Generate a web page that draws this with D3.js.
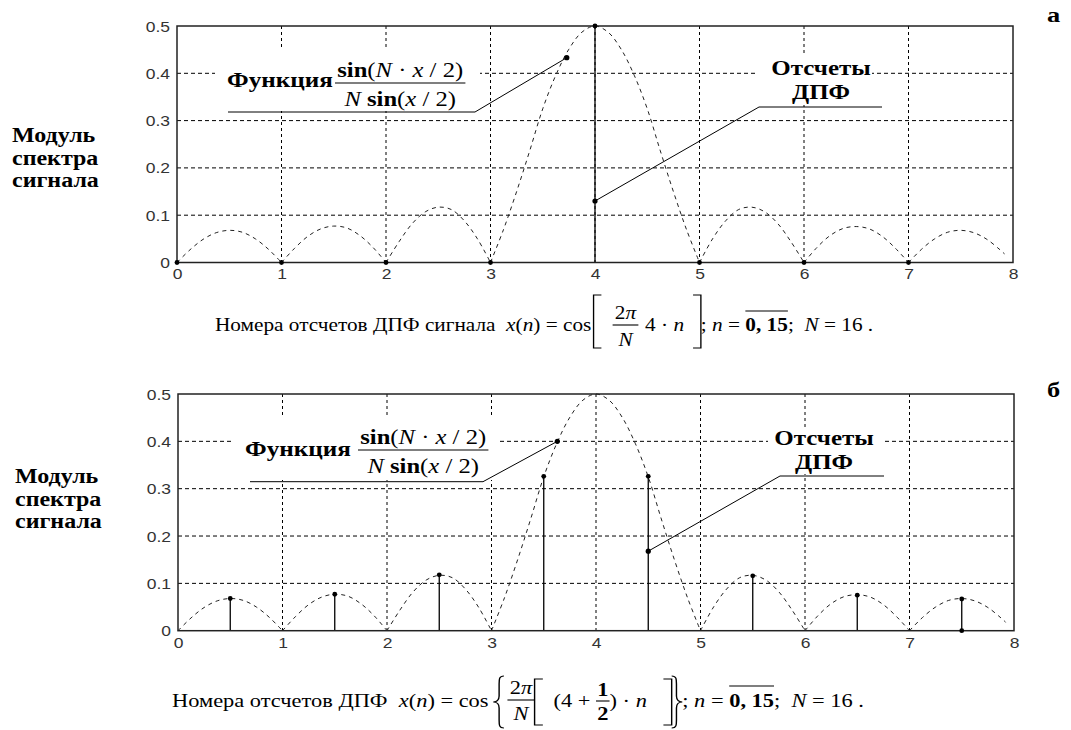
<!DOCTYPE html>
<html>
<head>
<meta charset="utf-8">
<script src="https://cdn.jsdelivr.net/npm/d3@7"></script>
<style>
  body { margin: 0; background: #fff; }
  svg { display: block; }
  .serif { font-family: "Liberation Serif", "DejaVu Serif", serif; white-space: pre; }
  .sans { font-family: "Liberation Sans", "DejaVu Sans", sans-serif; }
</style>
</head>
<body>
<svg id="fig" width="1071" height="730"></svg>
<script>
// ---- axis ticks ----
const xTicks = [0, 1, 2, 3, 4, 5, 6, 7, 8];
const xTickLabels = ["0", "1", "2", "3", "4", "5", "6", "7", "8"];
const yTicks = [0, 0.1, 0.2, 0.3, 0.4, 0.5];
const yTickLabels = ["0", "0.1", "0.2", "0.3", "0.4", "0.5"];

// ---- |sin(N·x/2) / (N·sin(x/2))| envelope, sampled ----
const envX = [0, 0.125, 0.25, 0.375, 0.5, 0.625, 0.75, 0.875,
              1, 1.125, 1.25, 1.375, 1.5, 1.625, 1.75, 1.875,
              2, 2.125, 2.25, 2.375, 2.5, 2.625, 2.75, 2.875,
              3, 3.125, 3.25, 3.375, 3.5, 3.625, 3.75, 3.875,
              4, 4.125, 4.25, 4.375, 4.5, 4.625, 4.75, 4.875,
              5, 5.125, 5.25, 5.375, 5.5, 5.625, 5.75, 5.875,
              6, 6.125, 6.25, 6.375, 6.5, 6.625, 6.75, 6.875,
              7, 7.125, 7.25, 7.375, 7.5, 7.625, 7.75, 7.875, 7.92];
const envY = [0, 0.027, 0.049, 0.063, 0.068, 0.064, 0.050, 0.028,
              0, 0.030, 0.055, 0.071, 0.077, 0.073, 0.057, 0.032,
              0, 0.044, 0.082, 0.107, 0.117, 0.112, 0.088, 0.050,
              0, 0.070, 0.150, 0.236, 0.325, 0.396, 0.451, 0.487,
              0.5, 0.487, 0.451, 0.396, 0.325, 0.236, 0.150, 0.070,
              0, 0.050, 0.088, 0.112, 0.117, 0.107, 0.082, 0.044,
              0, 0.032, 0.057, 0.072, 0.076, 0.071, 0.055, 0.030,
              0, 0.028, 0.050, 0.064, 0.068, 0.063, 0.049, 0.027, 0.018];

// ---- panel а: DFT of cos(2π/N·4n) ----
const binsA = [0, 1, 2, 3, 4, 5, 6, 7];
const magA  = [0, 0, 0, 0, 0.5, 0, 0, 0];
const calloutFnA  = [3.73, 0.433];
const calloutDftA = [4, 0.13];

// ---- panel б: DFT of cos(2π/N·(4+1/2)n) ----
const binsB = [0.5, 1.5, 2.5, 3.5, 4.5, 5.5, 6.5, 7.5];
const magB  = [0.068, 0.077, 0.118, 0.326, 0.326, 0.116, 0.075, 0.067];
const zeroMarksB = [7.5];
const calloutFnB  = [3.63, 0.4];
const calloutDftB = [4.5, 0.168];

const SX = 1.2;   // horizontal widening of all lettering

const svg = d3.select("#fig");
svg.append("rect").attr("width", 1071).attr("height", 730).attr("fill", "#fff");

// ---------- text helpers ----------
function spansText(g, x, y, spans, size, anchor) {
  const t = g.append("text")
    .attr("class", "serif")
    .attr("xml:space", "preserve")
    .attr("x", x).attr("y", y)
    .style("font-size", size + "px")
    .attr("text-anchor", anchor || "start")
    .attr("fill", "#000");
  spans.forEach(([s, st]) => {
    t.append("tspan").text(s)
      .style("font-style", st.includes("i") ? "italic" : "normal")
      .style("font-weight", st.includes("b") ? "bold" : "normal");
  });
  return t;
}

function plainText(parent, x, y, str, opt) {
  const g = parent.append("g")
    .attr("transform", `translate(${x},${y}) scale(${opt.sx || SX},1)`);
  return g.append("text").text(str)
    .attr("class", "serif")
    .style("font-size", (opt.size || 20) + "px")
    .style("font-weight", opt.weight || "normal")
    .attr("text-anchor", opt.anchor || "start")
    .attr("fill", "#000");
}

function bracketPath(kind, x, top, bot, w) {
  const mid = (top + bot) / 2;
  if (kind === "[") return `M${x + w},${top}H${x}V${bot}H${x + w}`;
  if (kind === "]") return `M${x},${top}H${x + w}V${bot}H${x}`;
  if (kind === "{") {
    const a = x + w * 0.55;
    return `M${x + w},${top}C${a},${top} ${a},${top + 3} ${a},${top + 8}` +
           `L${a},${mid - 6}C${a},${mid - 2} ${x + w * 0.3},${mid} ${x},${mid}` +
           `C${x + w * 0.3},${mid} ${a},${mid + 2} ${a},${mid + 6}` +
           `L${a},${bot - 8}C${a},${bot - 3} ${a},${bot} ${x + w},${bot}`;
  }
  const a = x + w * 0.45;
  return `M${x},${top}C${a},${top} ${a},${top + 3} ${a},${top + 8}` +
         `L${a},${mid - 6}C${a},${mid - 2} ${x + w * 0.7},${mid} ${x + w},${mid}` +
         `C${x + w * 0.7},${mid} ${a},${mid + 2} ${a},${mid + 6}` +
         `L${a},${bot - 8}C${a},${bot - 3} ${a},${bot} ${x},${bot}`;
}

// lays out a formula left to right from (x, baseline y)
function formula(parent, x, y, items, sx) {
  const g = parent.append("g").attr("transform", `translate(${x},${y}) scale(${sx},1)`);
  let cx = 0;
  items.forEach(it => {
    if (it.gap) { cx += it.gap; return; }
    if (it.frac) {
      const n = spansText(g, 0, it.numY, it.num, it.size, "middle");
      const d = spansText(g, 0, it.denY, it.den, it.size, "middle");
      const w = Math.max(n.node().getComputedTextLength(),
                         d.node().getComputedTextLength()) + 2 * (it.pad || 2);
      n.attr("x", cx + w / 2);
      d.attr("x", cx + w / 2);
      g.append("line").attr("x1", cx).attr("x2", cx + w)
        .attr("y1", it.barY).attr("y2", it.barY)
        .attr("stroke", "#000").attr("stroke-width", 1.1);
      cx += w;
      return;
    }
    if (it.br) {
      g.append("path").attr("d", bracketPath(it.br, cx, it.top, it.bot, it.w))
        .attr("fill", "none").attr("stroke", "#000").attr("stroke-width", 1.2);
      cx += it.w;
      return;
    }
    const t = spansText(g, cx, 0, it.s, it.size || 19);
    const len = t.node().getComputedTextLength();
    if (it.over) {
      g.append("line").attr("x1", cx).attr("x2", cx + len)
        .attr("y1", it.over).attr("y2", it.over)
        .attr("stroke", "#000").attr("stroke-width", 1.2);
    }
    cx += len;
  });
  return cx * sx;
}

// ---------- one spectrum panel ----------
function panel(cfg) {
  const x = d3.scaleLinear().domain([0, 8]).range([cfg.left, cfg.right]);
  const y = d3.scaleLinear().domain([0, 0.5]).range([cfg.bottom, cfg.top]);
  const g = svg.append("g");

  // grid
  g.append("g").selectAll("line").data(xTicks.slice(1, -1)).join("line")
    .attr("x1", d => x(d)).attr("x2", d => x(d))
    .attr("y1", cfg.top).attr("y2", cfg.bottom)
    .attr("stroke", "#000").attr("stroke-width", 1)
    .attr("stroke-dasharray", "3,3");
  g.append("g").selectAll("line").data(yTicks.slice(1, -1)).join("line")
    .attr("x1", cfg.left).attr("x2", cfg.right)
    .attr("y1", d => y(d)).attr("y2", d => y(d))
    .attr("stroke", "#000").attr("stroke-width", 1)
    .attr("stroke-dasharray", "4,3");

  // envelope, one arch between consecutive zeros
  const pts = envX.map((v, i) => [v, envY[i]]);
  const arches = [];
  let cur = [];
  pts.forEach((p, i) => {
    cur.push(p);
    if (p[1] === 0 && i > 0) { arches.push(cur); cur = [p]; }
  });
  if (cur.length > 1) arches.push(cur);
  const line = d3.line().x(d => x(d[0])).y(d => y(d[1]))
    .curve(d3.curveCatmullRom.alpha(0.5));
  g.append("g").selectAll("path").data(arches).join("path")
    .attr("d", line)
    .attr("fill", "none").attr("stroke", "#222").attr("stroke-width", 1)
    .attr("stroke-dasharray", "4,4");

  // DFT stems
  const stems = cfg.bins.map((b, i) => [b, cfg.mag[i]]);
  g.append("g").selectAll("line").data(stems.filter(d => d[1] > 0)).join("line")
    .attr("x1", d => x(d[0])).attr("x2", d => x(d[0]))
    .attr("y1", y(0)).attr("y2", d => y(d[1]))
    .attr("stroke", "#000").attr("stroke-width", 1.3);

  // callout label boxes (white backing)
  cfg.boxes.forEach(b => {
    g.append("rect").attr("x", b[0]).attr("y", b[1])
      .attr("width", b[2] - b[0]).attr("height", b[3] - b[1]).attr("fill", "#fff");
  });

  // frame
  g.append("rect").attr("x", cfg.left).attr("y", cfg.top)
    .attr("width", cfg.right - cfg.left).attr("height", cfg.bottom - cfg.top)
    .attr("fill", "none").attr("stroke", "#222").attr("stroke-width", 1.5);

  // axes (labels only)
  const ax = g.append("g").attr("transform", `translate(0,${cfg.bottom})`)
    .call(d3.axisBottom(x).tickValues(xTicks).tickFormat((d, i) => xTickLabels[i])
      .tickSize(0).tickPadding(7));
  const ay = g.append("g").attr("transform", `translate(${cfg.left},0)`)
    .call(d3.axisLeft(y).tickValues(yTicks).tickFormat((d, i) => yTickLabels[i])
      .tickSize(0).tickPadding(7));
  [ax, ay].forEach(a => {
    a.select(".domain").remove();
    a.attr("font-family", null).attr("font-size", null);
    a.selectAll("text").attr("class", "sans").style("font-size", "14px").attr("fill", "#333");
  });
  ax.selectAll("text").attr("transform", "scale(1.25,1)");
  ay.selectAll("text").attr("transform", "scale(1.25,1)").attr("x", -7 / 1.25).attr("dy", "0.36em");

  // callout leaders
  const lead = d3.line();
  const fnP = [x(cfg.fnPt[0]), y(cfg.fnPt[1])];
  const dftP = [x(cfg.dftPt[0]), y(cfg.dftPt[1])];
  g.append("path").attr("d", lead([[cfg.fnLine[0], cfg.fnLine[2]], [cfg.fnLine[1], cfg.fnLine[2]], fnP]))
    .attr("fill", "none").attr("stroke", "#000").attr("stroke-width", 1);
  g.append("path").attr("d", lead([dftP, [cfg.dftLine[0], cfg.dftLine[2]], [cfg.dftLine[1], cfg.dftLine[2]]]))
    .attr("fill", "none").attr("stroke", "#000").attr("stroke-width", 1);

  // sample markers
  g.append("g").selectAll("circle").data(stems.concat(cfg.zeroMarks.map(b => [b, 0]))).join("circle")
    .attr("cx", d => x(d[0])).attr("cy", d => y(d[1])).attr("r", 2.4).attr("fill", "#000");
  g.append("g").selectAll("circle").data([cfg.fnPt, cfg.dftPt]).join("circle")
    .attr("cx", d => x(d[0])).attr("cy", d => y(d[1])).attr("r", 2.6).attr("fill", "#000");

  // "Функция sin(N·x/2)/(N sin(x/2))"
  plainText(g, cfg.fnText[0], cfg.fnText[1], "Функция", { size: 21, weight: "bold" });
  formula(g, cfg.fnFrac[0], cfg.fnFrac[1], [
    { frac: true, size: 22, numY: -8, denY: 21, barY: -2, pad: 2,
      num: [["sin", "b"], ["(", ""], ["N", "i"], [" · ", ""], ["x", "i"], [" / ", ""], ["2", ""], [")", ""]],
      den: [["N", "i"], [" sin", "b"], ["(", ""], ["x", "i"], [" / ", ""], ["2", ""], [")", ""]] }
  ], 1.12);

  // "Отсчеты ДПФ"
  plainText(g, cfg.dftText[0], cfg.dftText[1], "Отсчеты", { size: 20, weight: "bold", anchor: "middle", sx: 1.25 });
  plainText(g, cfg.dftText[0], cfg.dftText[2], "ДПФ", { size: 20, weight: "bold", anchor: "middle", sx: 1.25 });

  // left axis title
  ["Модуль", "спектра", "сигнала"].forEach((s, i) => {
    plainText(g, cfg.yTitle[0], cfg.yTitle[1] + i * 22.5, s, { size: 20, weight: "bold" });
  });

  // panel letter
  plainText(g, 1047, cfg.letterY, cfg.letter, { size: 22, weight: "bold" });
  return { x, y };
}

panel({
  left: 177, right: 1013, top: 26, bottom: 262.5,
  bins: binsA, mag: magA, zeroMarks: [],
  fnPt: calloutFnA, dftPt: calloutDftA,
  fnLine: [228, 475, 112], dftLine: [759, 882, 107],
  boxes: [[215, 50, 480, 111], [757, 56, 872, 105]],
  fnText: [227, 87], fnFrac: [335, 85],
  dftText: [821, 75, 99],
  yTitle: [12, 142], letter: "а", letterY: 22
});

panel({
  left: 178, right: 1014, top: 394, bottom: 630.7,
  bins: binsB, mag: magB, zeroMarks: zeroMarksB,
  fnPt: calloutFnB, dftPt: calloutDftB,
  fnLine: [250, 483, 481.7], dftLine: [780, 884, 476],
  boxes: [[233, 415, 498, 480], [768, 428, 882, 474]],
  fnText: [245, 456], fnFrac: [358, 452],
  dftText: [824, 445, 469],
  yTitle: [15, 483], letter: "б", letterY: 397
});

// ---------- captions ----------
const cap = svg.append("g");
formula(cap, 215, 331, [
  { s: [["Номера отсчетов ДПФ сигнала  ", ""], ["x", "i"], ["(", ""], ["n", "i"], [") = cos", ""]] },
  { gap: 2 },
  { br: "[", top: -36, bot: 17, w: 7 },
  { gap: 10 },
  { frac: true, size: 19, numY: -12, denY: 15, barY: -6, pad: 2,
    num: [["2", ""], ["π", "i"]], den: [["N", "i"]] },
  { gap: 6 },
  { s: [["4 · ", ""], ["n", "i"]] },
  { gap: 8 },
  { br: "]", top: -36, bot: 17, w: 7 },
  { s: [["; ", ""], ["n", "i"], [" = ", ""]] },
  { s: [["0, 15", "b"]], over: -20 },
  { s: [[";  ", ""], ["N", "i"], [" = 16 .", ""]] }
], 1.12);

formula(cap, 172, 707, [
  { s: [["Номера отсчетов ДПФ  ", ""], ["x", "i"], ["(", ""], ["n", "i"], [") = cos", ""]] },
  { gap: 4 },
  { br: "{", top: -31, bot: 21, w: 9 },
  { gap: 3 },
  { frac: true, size: 19, numY: -13, denY: 13, barY: -7, pad: 2,
    num: [["2", ""], ["π", "i"]], den: [["N", "i"]] },
  { br: "[", top: -28, bot: 18, w: 7 },
  { gap: 9 },
  { s: [["(4 + ", ""]] },
  { frac: true, size: 19, numY: -11, denY: 13, barY: -6, pad: 1,
    num: [["1", "b"]], den: [["2", "b"]] },
  { s: [[") · ", ""], ["n", "i"]] },
  { gap: 14 },
  { br: "]", top: -28, bot: 18, w: 7 },
  { br: "}", top: -31, bot: 21, w: 9 },
  { s: [["; ", ""], ["n", "i"], [" = ", ""]] },
  { s: [["0, 15", "b"]], over: -21 },
  { s: [[";  ", ""], ["N", "i"], [" = 16 .", ""]] }
], 1.18);
</script>
</body>
</html>
